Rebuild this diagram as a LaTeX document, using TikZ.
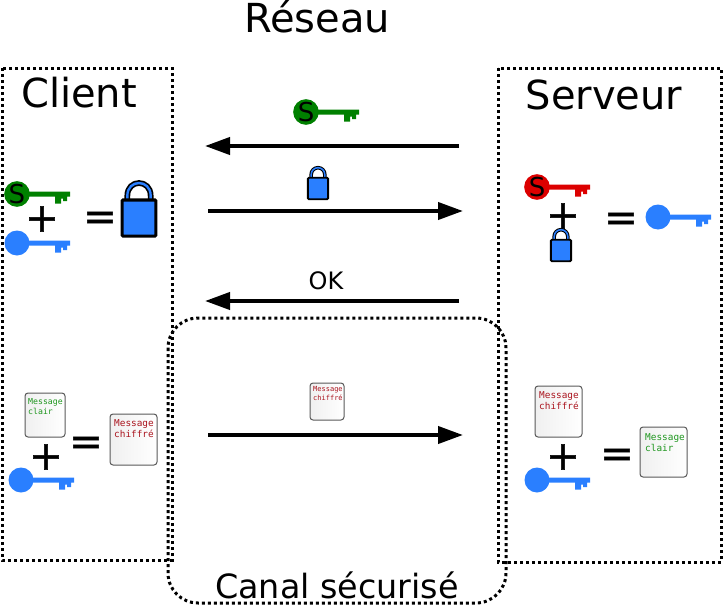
\documentclass[tikz,border=0pt]{standalone}
\usepackage{fontspec}
\setmainfont{DejaVu Sans}
\setmonofont{DejaVu Sans Mono}
\newfontfamily\signfont[FakeBold=1.2]{DejaVu Sans}
\usetikzlibrary{arrows.meta,shadings}
\definecolor{keygreen}{RGB}{0,128,0}
\definecolor{keyred}{RGB}{220,0,0}
\definecolor{keyblue}{RGB}{42,127,255}
\definecolor{msggreen}{RGB}{30,150,30}
\definecolor{msgred}{RGB}{170,20,30}
\tikzset{
         frame/.style={line width=3pt,dash pattern=on 3pt off 3pt},
         flow/.style={line width=4pt,-{Stealth[length=25pt,width=17pt,inset=0pt]},shorten >=-1pt},
         title/.style={font=\fontsize{40}{40}\selectfont},
         sign/.style={font=\signfont\fontsize{40}{40}\selectfont,inner sep=0pt},
         docbox/.style={draw=black!65,line width=1pt,rounded corners=3pt,left color=black!6,right color=white,inner sep=0pt},
         doctext/.style={anchor=north west,inner sep=0pt,align=left},
         pics/keypic/.style 2 args={code={
           \fill[#1] (0,-2.5)--(53,-2.5)--(53,2.5)--(50,2.5)--(50,7)--(46,7)--(46,4.5)--(44,4.5)--(44,9.5)--(38,9.5)--(38,2.5)--(0,2.5)--cycle;
           \node[circle,fill=#1,minimum size=25pt,inner sep=0pt,font=\fontsize{26}{26}\selectfont] (-head) at (0,0){#2};
         }},
         pics/lockpic/.style 2 args={code={
           \draw[line width=#2*3.6pt,line join=round] (-11*#1,-17*#1)--(-11*#1,-21*#1) .. controls (-11*#1,-37*#1) and (11*#1,-37*#1) .. (11*#1,-21*#1)--(11*#1,-17*#1);
           \draw[keyblue,line width=#2*1.5pt] (-11*#1,-17*#1)--(-11*#1,-21*#1) .. controls (-11*#1,-37*#1) and (11*#1,-37*#1) .. (11*#1,-21*#1)--(11*#1,-17*#1);
           \draw[fill=keyblue,line width=#2*1.9pt,rounded corners=1pt] (-16*#1,-17*#1) rectangle (16*#1,17*#1);
         }}
        }
\begin{document}
\begin{tikzpicture}[x=1pt,y=-1pt]
\useasboundingbox (0,0) rectangle (723,605);

\draw[frame] (2,68) rectangle (172,560); %client
\draw[frame] (498,68) rectangle (721,562); %server
\draw[frame,rounded corners=30pt] (168,318) rectangle (506,603); %channel

\node[title] (network) at (317,17){Réseau};
\node[title] (client) at (79,93){Client};
\node[title] (server) at (604,95){Serveur};
\node[font=\fontsize{33.4}{33.4}\selectfont] (channel) at (337,585){Canal sécurisé};
\node[font=\fontsize{24}{24}\selectfont] (ok) at (326,281){OK};

\coordinate (r1) at (459,146);
\coordinate (l1) at (206,146);
\coordinate (l2) at (208,211);
\coordinate (r2) at (462,211);
\coordinate (r3) at (459,301);
\coordinate (l3) at (206,301);
\coordinate (l4) at (208,435);
\coordinate (r4) at (462,435);
\draw[flow] (r1)--(l1);
\draw[flow] (l2)--(r2);
\draw[flow] (r3)--(l3);
\draw[flow] (l4)--(r4);

\pic (keyS) at (306,112) {keypic={keygreen}{S}}; %public key in transit
\pic at (318,188.5) {lockpic={.63}{1}}; %padlock in transit

%client side
\pic (keyC) at (17,194) {keypic={keygreen}{S}};
\pic (keyD) at (17,243) {keypic={keyblue}{}};
\node[sign] (plusA) at (42,219){+};
\node[sign] (equA) at (100,221){=};
\pic at (139,218) {lockpic={1.06}{1.6}};

\node[docbox,minimum width=40pt,minimum height=44pt] (clearA) at (45,415){};
\node[doctext,text=msggreen,font=\ttfamily\fontsize{8.2}{10}\selectfont] (clearAt) at (28,398.5){Message\\clair};
\node[sign] (plusB) at (46,457){+};
\node[sign] (equB) at (86,446){=};
\pic (keyE) at (21,480) {keypic={keyblue}{}};
\node[docbox,minimum width=47pt,minimum height=51pt] (cipherA) at (133.5,439.5){};
\node[doctext,text=msgred,font=\ttfamily\fontsize{9.4}{11}\selectfont] (cipherAt) at (114,419.5){Message\\chiffré};

%channel
\node[docbox,minimum width=34pt,minimum height=37pt] (cipherB) at (327,401.5){};
\node[doctext,text=msgred,font=\ttfamily\fontsize{7}{9}\selectfont] (cipherBt) at (313,386.5){Message\\chiffré};

%server side
\pic (keyF) at (537,187) {keypic={keyred}{S}};
\node[sign] (plusC) at (563,216){+};
\pic at (561,250.5) {lockpic={.63}{1}};
\node[sign] (equC) at (621,222){=};
\pic (keyG) at (658,217) {keypic={keyblue}{}};

\node[docbox,minimum width=47pt,minimum height=51pt] (cipherC) at (558.5,411.5){};
\node[doctext,text=msgred,font=\ttfamily\fontsize{9.4}{11}\selectfont] (cipherCt) at (539,391.5){Message\\chiffré};
\node[sign] (plusD) at (563,457){+};
\node[sign] (equD) at (617,458){=};
\pic (keyH) at (537,480) {keypic={keyblue}{}};
\node[docbox,minimum width=47pt,minimum height=50pt] (clearB) at (663.5,452){};
\node[doctext,text=msggreen,font=\ttfamily\fontsize{9.4}{11}\selectfont] (clearBt) at (645,433.5){Message\\clair};
\end{tikzpicture}
\end{document}
